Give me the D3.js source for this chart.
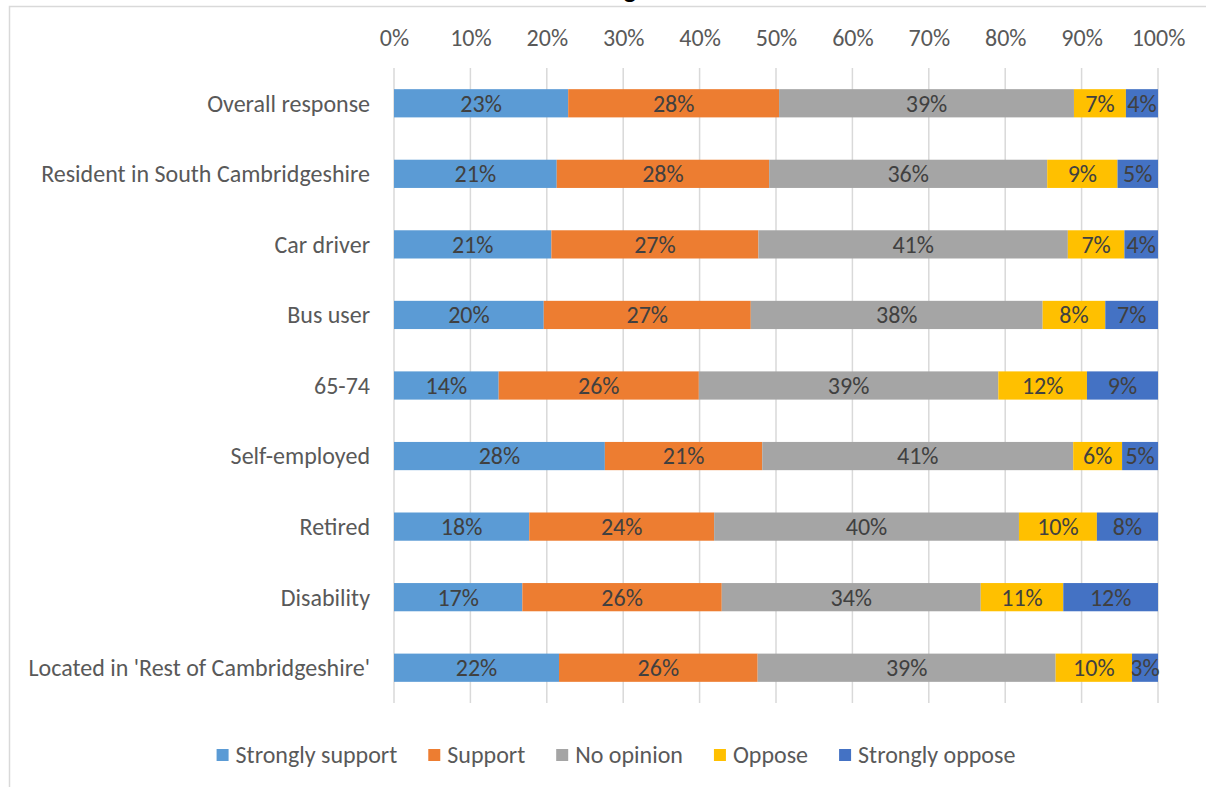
<!DOCTYPE html>
<html>
<head>
<meta charset="utf-8">
<script src="https://cdn.jsdelivr.net/npm/d3@7"></script>
<style>
  html, body { margin: 0; padding: 0; background: #fff; }
  svg { display: block; }
  text { font-family: Carlito, Calibri, "Open Sans", sans-serif; }
</style>
</head>
<body>
<svg id="chart" width="1206" height="787"></svg>
<script>
const categories = [
  "Overall response",
  "Resident in South Cambridgeshire",
  "Car driver",
  "Bus user",
  "65-74",
  "Self-employed",
  "Retired",
  "Disability",
  "Located in 'Rest of Cambridgeshire'"
];
const seriesNames = ["Strongly support", "Support", "No opinion", "Oppose", "Strongly oppose"];
const seriesColors = ["#5B9BD5", "#ED7D31", "#A5A5A5", "#FFC000", "#4472C4"];
const stronglySupport = [22.8, 21.3, 20.6, 19.6, 13.7, 27.6, 17.7, 16.8, 21.6];
const support         = [27.6, 27.8, 27.1, 27.1, 26.2, 20.6, 24.2, 26.1, 26.0];
const noOpinion       = [38.6, 36.4, 40.5, 38.2, 39.2, 40.7, 39.9, 33.9, 39.0];
const oppose          = [ 6.8,  9.2,  7.4,  8.2, 11.6,  6.4, 10.2, 10.8, 10.0];
const stronglyOppose  = [ 4.2,  5.3,  4.4,  6.9,  9.3,  4.7,  8.0, 12.4,  3.4];
const tickValues = [0, 10, 20, 30, 40, 50, 60, 70, 80, 90, 100];
const titleText = "g";

const FONT = 'Carlito, Calibri, "Open Sans", sans-serif';
const FS = 24;

const seriesValues = [stronglySupport, support, noOpinion, oppose, stronglyOppose];
const table = categories.map((c, i) => {
  const row = { category: c };
  seriesNames.forEach((s, j) => row[s] = seriesValues[j][i]);
  return row;
});

const svg = d3.select("#chart");

// outer frame
svg.append("rect")
  .attr("x", 9.5).attr("y", 6.5)
  .attr("width", 1250).attr("height", 850)
  .attr("fill", "none").attr("stroke", "#d9d9d9").attr("stroke-width", 1.5);

// title (clipped at top, as in the reference)
svg.append("text")
  .attr("x", 630).attr("y", -2)
  .attr("text-anchor", "middle")
  .attr("font-size", 26).attr("font-weight", "bold")
  .attr("fill", "#000")
  .text(titleText);

const x = d3.scaleLinear().domain([0, 100]).range([394, 1158]);
const y = d3.scaleBand().domain(categories).range([68, 703]).paddingInner(0.6).paddingOuter(0.3);

// gridlines
svg.append("g")
  .selectAll("line")
  .data(tickValues)
  .join("line")
  .attr("x1", d => x(d)).attr("x2", d => x(d))
  .attr("y1", 68).attr("y2", 703)
  .attr("stroke", "#d9d9d9").attr("stroke-width", 1.5);

// top axis labels
const xAxis = d3.axisTop(x).tickValues(tickValues).tickFormat(d => d + "%").tickSize(0).tickPadding(0);
const gx = svg.append("g").attr("transform", "translate(0,46)").call(xAxis);
gx.select(".domain").remove();
gx.selectAll("text").attr("font-size", FS).attr("fill", "#595959").attr("font-family", FONT);

// left axis labels
const yAxis = d3.axisLeft(y).tickSize(0).tickPadding(24);
const gy = svg.append("g").attr("transform", "translate(394,0)").call(yAxis);
gy.select(".domain").remove();
gy.selectAll("text").attr("font-size", FS).attr("fill", "#595959").attr("font-family", FONT).attr("dy", "0.35em");

// stacked bars
const stack = d3.stack().keys(seriesNames);
const stacked = stack(table);
const color = d3.scaleOrdinal().domain(seriesNames).range(seriesColors);

const layers = svg.append("g").selectAll("g")
  .data(stacked)
  .join("g")
  .attr("fill", d => color(d.key));

layers.selectAll("rect")
  .data(d => d.map(v => ({ v, key: d.key })))
  .join("rect")
  .attr("x", d => x(d.v[0]))
  .attr("y", d => y(d.v.data.category))
  .attr("width", d => x(d.v[1]) - x(d.v[0]))
  .attr("height", y.bandwidth());

// bar labels
const labels = svg.append("g");
stacked.forEach(layer => {
  layer.forEach(v => {
    labels.append("text")
      .attr("x", (x(v[0]) + x(v[1])) / 2)
      .attr("y", y(v.data.category) + y.bandwidth() / 2)
      .attr("dy", "0.35em")
      .attr("text-anchor", "middle")
      .attr("font-size", FS)
      .attr("fill", "#404040")
      .text(Math.round(v[1] - v[0]) + "%");
  });
});

// legend
const legend = svg.append("g").attr("transform", "translate(0,755)");
const items = legend.selectAll("g").data(seriesNames).join("g");
items.append("rect").attr("width", 12).attr("height", 12).attr("y", -6).attr("fill", d => color(d));
items.append("text").attr("x", 19).attr("dy", "0.35em").attr("font-size", FS).attr("fill", "#595959").text(d => d);
const widths = [];
items.each(function() { widths.push(this.getBBox().width); });
const gap = 31;
const total = d3.sum(widths) + gap * (widths.length - 1);
let cx = 616 - total / 2;
items.each(function(d, i) {
  d3.select(this).attr("transform", `translate(${cx},0)`);
  cx += widths[i] + gap;
});
</script>
</body>
</html>
